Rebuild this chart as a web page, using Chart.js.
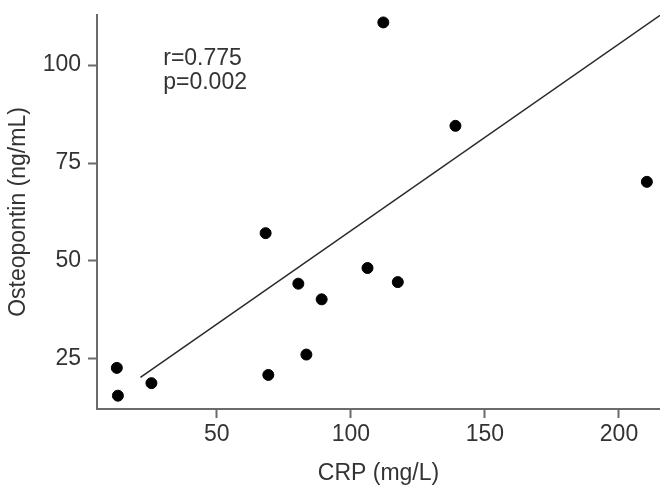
<!DOCTYPE html>
<html>
<head>
<meta charset="utf-8">
<script src="https://cdn.jsdelivr.net/npm/chart.js@4"></script>
<style>
  html, body { margin: 0; padding: 0; background: #fff; }
  #wrap { width: 660px; height: 487px; }
</style>
</head>
<body>
<div id="wrap"><canvas id="chart" width="660" height="487"></canvas></div>
<script>
/* ---- data ---- */
const crp        = [112.1, 139.0, 210.4, 68.2, 80.4, 89.1, 12.7, 13.1, 25.6, 69.2, 83.4, 106.2, 117.5];
const osteopontin = [110.9, 84.5, 70.2, 57.1, 44.2, 40.2, 22.7, 15.6, 18.8, 20.9, 26.1, 48.2, 44.6];
const fitX = [21.5, 215.3];
const fitY = [20.3, 112.7];
const xTicks = [50, 100, 150, 200];
const yTicks = [25, 50, 75, 100];
const statsText = ['r=0.775', 'p=0.002'];

const FONT = "'Liberation Sans', Arial, sans-serif";
const SIZE = 23;
const AXIS = '#6b6b6b';
const TEXT = '#333';

// r / p annotation, anchored in data units
const statsLabel = {
  id: 'statsLabel',
  afterDatasetsDraw(chart) {
    const { ctx, scales } = chart;
    const x = scales.x.getPixelForValue(30.0);
    const y = scales.y.getPixelForValue(100.1);
    ctx.save();
    ctx.font = SIZE + 'px ' + FONT;
    ctx.fillStyle = TEXT;
    ctx.textBaseline = 'alphabetic';
    statsText.forEach((t, i) => ctx.fillText(t, x, y + i * 24));
    ctx.restore();
  }
};

new Chart(document.getElementById('chart'), {
  type: 'scatter',
  data: {
    datasets: [
      {
        label: 'samples',
        data: crp.map((v, i) => ({ x: v, y: osteopontin[i] })),
        backgroundColor: '#000',
        borderColor: '#000',
        pointRadius: 5.5,
        pointHoverRadius: 5.5,
      },
      {
        type: 'line',
        label: 'fit',
        data: fitX.map((v, i) => ({ x: v, y: fitY[i] })),
        borderColor: '#2a2a2a',
        borderWidth: 1.5,
        pointRadius: 0,
        fill: false,
      }
    ]
  },
  options: {
    responsive: false,
    animation: false,
    layout: { autoPadding: false, padding: { top: 15, right: 0, bottom: 0, left: 0 } },
    plugins: { legend: { display: false }, tooltip: { enabled: false } },
    scales: {
      x: {
        type: 'linear',
        min: 5.3, max: 215.3,
        afterBuildTicks: s => { s.ticks = xTicks.map(v => ({ value: v })); },
        afterFit: s => { s.height = 78; s.paddingLeft = 0; s.paddingRight = 0; },
        border: { display: true, color: AXIS, width: 2 },
        grid: { drawOnChartArea: false, drawTicks: true, tickLength: 9, color: AXIS, tickWidth: 2 },
        ticks: { color: TEXT, font: { family: FONT, size: SIZE }, padding: 3, maxRotation: 0 },
        title: { display: true, text: 'CRP (mg/L)', color: TEXT, font: { family: FONT, size: SIZE }, padding: { top: 0, bottom: 0 } }
      },
      y: {
        type: 'linear',
        min: 12.2, max: 112.8,
        afterBuildTicks: s => { s.ticks = yTicks.map(v => ({ value: v })); },
        afterFit: s => { s.width = 97; s.paddingTop = 0; s.paddingBottom = 0; },
        border: { display: true, color: AXIS, width: 2 },
        grid: { drawOnChartArea: false, drawTicks: true, tickLength: 9, color: AXIS, tickWidth: 2 },
        ticks: { color: TEXT, font: { family: FONT, size: SIZE }, padding: 7 },
        title: { display: true, text: 'Osteopontin (ng/mL)', color: TEXT, font: { family: FONT, size: SIZE }, padding: { top: 5, bottom: 0 } }
      }
    }
  },
  plugins: [statsLabel]
});
</script>
</body>
</html>
